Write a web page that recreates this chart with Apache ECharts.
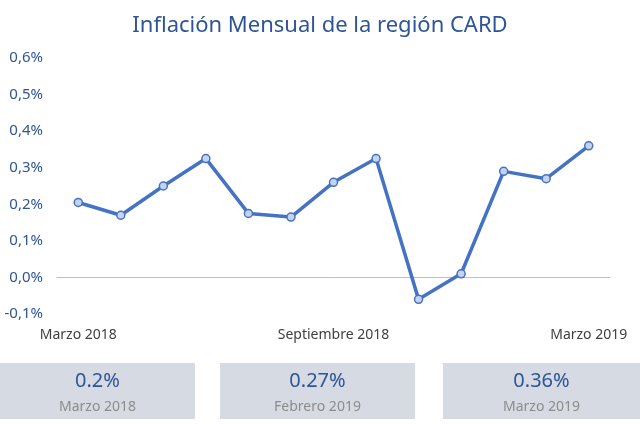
<!DOCTYPE html>
<html>
<head>
<meta charset="utf-8">
<script src="https://cdn.jsdelivr.net/npm/echarts@6/dist/echarts.min.js"></script>
<style>html,body{margin:0;padding:0;background:#fff}#container{width:640px;height:424px}</style>
</head>
<body>
<div id="container"></div>
<script>
// datos
var meses = ['Marzo 2018', 'Abril 2018', 'Mayo 2018', 'Junio 2018', 'Julio 2018', 'Agosto 2018',
    'Septiembre 2018', 'Octubre 2018', 'Noviembre 2018', 'Diciembre 2018', 'Enero 2019', 'Febrero 2019', 'Marzo 2019'];
var inflacion = [0.205, 0.17, 0.25, 0.325, 0.175, 0.165, 0.26, 0.325, -0.06, 0.01, 0.29, 0.27, 0.36];
var cajaValores = ['0.2%', '0.27%', '0.36%'];
var cajaMeses = ['Marzo 2018', 'Febrero 2019', 'Marzo 2019'];
var etiquetasVisibles = [0, 6, 12];

var myChart = echarts.init(document.getElementById('container'));
var cajasX = [0, 220, 443];
var cajasW = [195, 195, 197];
var graficos = [];
for (var i = 0; i < 3; i++) {
    graficos.push({
        type: 'group', left: cajasX[i], top: 363,
        children: [
            { type: 'rect', shape: { x: 0, y: 0, width: cajasW[i], height: 56 }, style: { fill: '#d6dbe3' } },
            { type: 'text', x: cajasW[i] / 2, y: 18, style: { text: cajaValores[i], fill: '#2e5597', font: '20px "Noto Sans"', textAlign: 'center', textVerticalAlign: 'middle' } },
            { type: 'text', x: cajasW[i] / 2, y: 44, style: { text: cajaMeses[i], fill: '#8c8c8c', font: '14px "Noto Sans"', textAlign: 'center', textVerticalAlign: 'middle' } }
        ]
    });
}

var option = {
    animation: false,
    title: {
        text: 'Inflación Mensual de la región CARD',
        left: 'center', top: 10,
        textStyle: { color: '#2e5597', fontSize: 22, fontWeight: 'normal', fontFamily: 'Noto Sans' }
    },
    grid: { left: 57, right: 30, top: 58, bottom: 110 },
    xAxis: {
        type: 'category',
        data: meses,
        boundaryGap: true,
        axisLine: { onZero: true, lineStyle: { color: '#bfbfbf' } },
        axisTick: { show: false },
        axisLabel: {
            interval: 0, margin: 14,
            color: '#404040', fontSize: 14, fontFamily: 'Noto Sans',
            formatter: function (v, idx) { return etiquetasVisibles.indexOf(idx) >= 0 ? v : ''; }
        }
    },
    yAxis: {
        type: 'value', min: -0.1, max: 0.6, interval: 0.1,
        splitLine: { show: false },
        axisLine: { show: false },
        axisLabel: {
            color: '#2e5597', fontSize: 15, fontFamily: 'Noto Sans', margin: 14,
            formatter: function (v) { return v.toFixed(1).replace('.', ',') + '%'; }
        }
    },
    series: [{
        type: 'line',
        data: inflacion,
        symbol: 'circle', symbolSize: 8,
        lineStyle: { color: '#4472c4', width: 3.5 },
        itemStyle: { color: '#c5d3ee', borderColor: '#4472c4', borderWidth: 1.5 }
    }],
    graphic: graficos
};
myChart.setOption(option);
</script>
</body>
</html>
